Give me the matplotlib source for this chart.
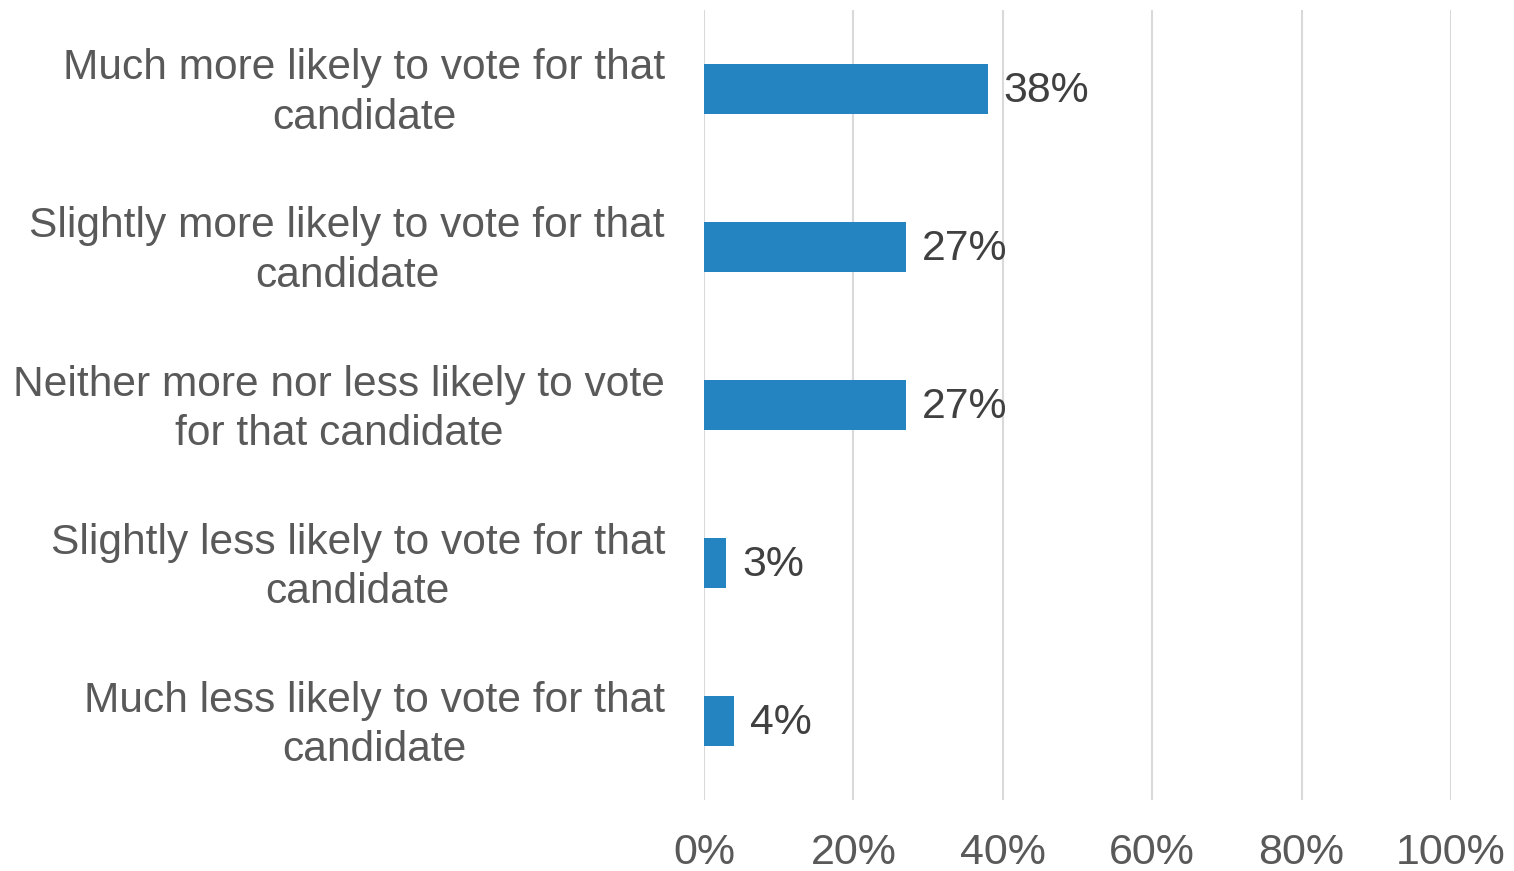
import matplotlib
matplotlib.use("Agg")
import matplotlib.pyplot as plt
from matplotlib.ticker import FuncFormatter
from matplotlib.transforms import ScaledTranslation

categories = [
    "Much more likely to vote for that\ncandidate",
    "Slightly more likely to vote for that\ncandidate",
    "Neither more nor less likely to vote\nfor that candidate",
    "Slightly less likely to vote for that\ncandidate",
    "Much less likely to vote for that\ncandidate",
]
values = [38, 27, 27, 3, 4]
xticks = [0, 20, 40, 60, 80, 100]

plt.rcParams['font.family'] = ['Liberation Sans', 'DejaVu Sans']

fig = plt.figure(figsize=(15.14, 8.71), dpi=100)
ax = fig.add_axes([704/1514, 1-800/871, (1451-704)/1514, 790/871])

ypos = list(range(len(categories)))
bars = ax.barh(ypos, values, height=0.316, color="#2484C1", zorder=3)
ax.set_ylim(len(categories) - 0.5, -0.5)
ax.set_xlim(0, 100)
ax.set_xticks(xticks)
ax.xaxis.set_major_formatter(FuncFormatter(lambda v, p: f"{v:.0f}%"))
ax.set_yticks(ypos)
ax.set_yticklabels(categories, multialignment="center", linespacing=1.32,
                   fontsize=30.6)

for b, v in zip(bars, values):
    ax.text(b.get_width() + 2.1, b.get_y() + b.get_height()/2 + 0.01, f"{v}%",
            va="center", ha="left", fontsize=30.8, color="#404040")

ax.grid(axis="x", color="#D9D9D9", linewidth=1.5, zorder=0)
for s in ax.spines.values():
    s.set_visible(False)
ax.tick_params(axis="both", length=0, labelcolor="#595959")
ax.tick_params(axis="x", pad=24, labelsize=31)
ax.tick_params(axis="y", pad=28)

shift = ScaledTranslation(0, 5/100, fig.dpi_scale_trans)
for lbl in ax.get_yticklabels():
    lbl.set_transform(lbl.get_transform() + shift)

fig.savefig("out.png", dpi=100)
